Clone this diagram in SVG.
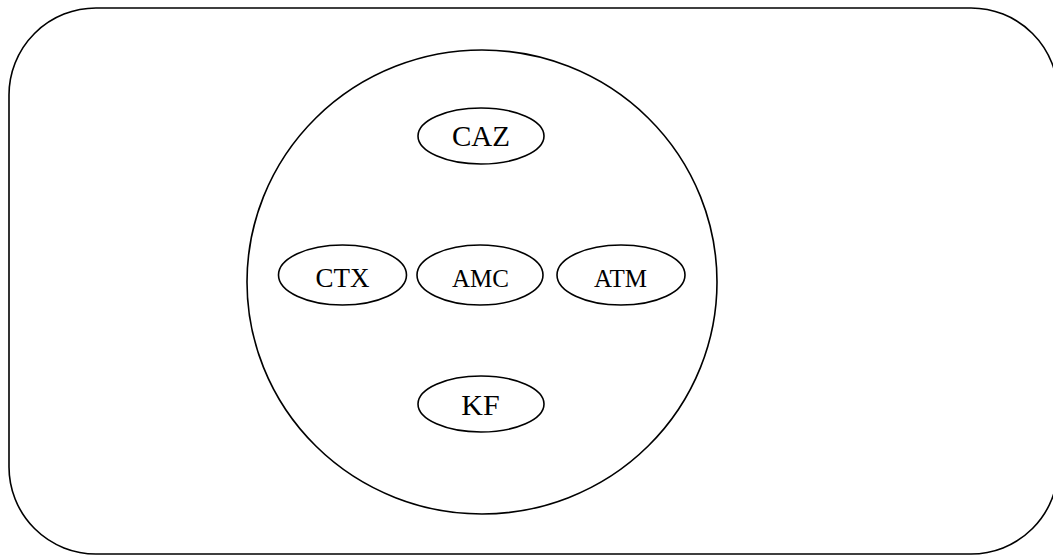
<svg xmlns="http://www.w3.org/2000/svg" width="1053" height="555" viewBox="0 0 1053 555">
  <style>
    .shape { fill: none; stroke: #000; stroke-width: 1.6; }
    .label { font-family: "Liberation Serif", "Times New Roman", serif; fill: #000; text-anchor: middle; }
  </style>
  <rect width="1053" height="555" fill="#fff"/>
  <!-- outer frame -->
  <g id="frame">
    <rect class="shape" x="9" y="8" width="1049" height="546" rx="87" ry="87"/>
  </g>
  <!-- enclosing circle -->
  <g id="circle">
    <ellipse class="shape" cx="482" cy="282" rx="235" ry="232"/>
  </g>
  <g id="connectors"></g>
  <g id="CAZ">
    <ellipse class="shape" cx="481" cy="136" rx="63" ry="28"/>
    <text class="label" x="481" y="146" font-size="29">CAZ</text>
  </g>
  <g id="CTX">
    <ellipse class="shape" cx="342.5" cy="275" rx="64" ry="30"/>
    <text class="label" x="342.5" y="287" font-size="27">CTX</text>
  </g>
  <g id="AMC">
    <ellipse class="shape" cx="480" cy="275" rx="63" ry="30"/>
    <text class="label" x="480.5" y="286.5" font-size="25">AMC</text>
  </g>
  <g id="ATM">
    <ellipse class="shape" cx="621" cy="275" rx="64" ry="30"/>
    <text class="label" x="620.5" y="286.5" font-size="25">ATM</text>
  </g>
  <g id="KF">
    <ellipse class="shape" cx="481" cy="404" rx="63" ry="28"/>
    <text class="label" x="480.5" y="415" font-size="30">KF</text>
  </g>
</svg>
